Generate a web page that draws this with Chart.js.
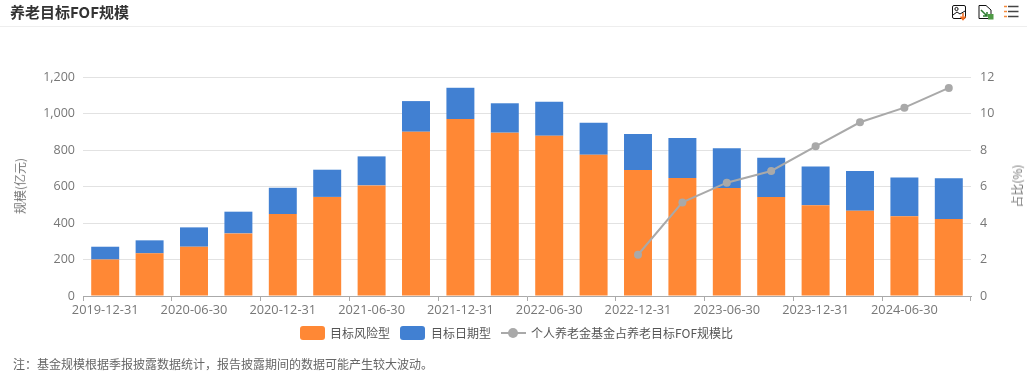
<!DOCTYPE html>
<html lang="zh">
<head>
    <meta charset="UTF-8">
    <title>养老目标FOF规模</title>
    <script src="https://cdn.jsdelivr.net/npm/chart.js"></script>
    <style>
        html, body {
            margin: 0;
            background: #fff;
        }
        body {
            width: 1027px;
            height: 379px;
            position: relative;
            overflow: hidden;
            font-family: "Open Sans", "Noto Sans CJK SC", sans-serif;
        }
        #myChart {
            position: absolute;
            left: 0;
            top: 0;
        }
        .title {
            position: absolute;
            left: 10px;
            top: 2px;
            font: bold 15px/20px "Noto Sans CJK SC", sans-serif;
            color: #333;
        }
        .header-line {
            position: absolute;
            left: 0;
            right: 0;
            top: 26px;
            border-top: 1px solid #eee;
        }
        .tools {
            position: absolute;
            left: 950px;
            top: 3px;
        }
        .axis-name {
            position: absolute;
            font: 12px/16px "Noto Sans CJK SC", sans-serif;
            color: #777;
            white-space: nowrap;
            transform: translate(-50%, -50%) rotate(-90deg);
        }
        #legend {
            position: absolute;
            left: 0;
            top: 325px;
            height: 16px;
            font: 12px/16px "Noto Sans CJK SC", sans-serif;
            color: #555;
        }
        #legend span {
            position: absolute;
            top: 0;
            white-space: nowrap;
        }
        #legend i {
            position: absolute;
            display: block;
        }
        .note {
            position: absolute;
            left: 13px;
            top: 356px;
            font: 12px/16px "Noto Sans CJK SC", sans-serif;
            color: #666;
            white-space: nowrap;
        }
    </style>
</head>
<body>
    <canvas id="myChart" width="1027" height="379"></canvas>
    <div class="title">养老目标FOF规模</div>
    <div class="header-line"></div>
    <svg class="tools" width="72" height="18" viewBox="0 0 72 18" fill="none">
        <rect x="2.5" y="2.5" width="13" height="13" rx="1.5" stroke="#111"/>
        <circle cx="6.5" cy="6" r="1.6" stroke="#111"/>
        <path d="M3 12 L7 9 L10 11 L15 8" stroke="#111"/>
        <path d="M13 10 V16 M10.5 13.5 L13 16.5 L15.5 13.5" stroke="#f26b1d" stroke-width="1.5"/>
        <path d="M29 2.5 H36 L41 7 V15.5 H29 Z" stroke="#111"/>
        <path d="M31 7 L37 13 M37 9 V13 H33" stroke="#2f7d32" stroke-width="1.5"/>
        <rect x="38" y="11" width="5.5" height="5.5" fill="#4f9a45"/>
        <path d="M54 3.5 H57 M54 8.5 H57 M54 13.5 H57" stroke="#f58a3c" stroke-width="1.5"/>
        <path d="M58 3.5 H68.5 M58 8.5 H68.5 M58 13.5 H68.5" stroke="#444" stroke-width="1.5"/>
    </svg>
    <div class="axis-name" style="left:20px; top:186px;">规模(亿元)</div>
    <div class="axis-name" style="left:1017px; top:186px;">占比(%)</div>
    <div id="legend"></div>
    <div class="note">注：基金规模根据季报披露数据统计，报告披露期间的数据可能产生较大波动。</div>

    <script>
        const categories = [
            '2019-12-31', '2020-03-31', '2020-06-30', '2020-09-30', '2020-12-31',
            '2021-03-31', '2021-06-30', '2021-09-30', '2021-12-31', '2022-03-31',
            '2022-06-30', '2022-09-30', '2022-12-31', '2023-03-31', '2023-06-30',
            '2023-09-30', '2023-12-31', '2024-03-31', '2024-06-30', '2024-09-30'
        ];
        const riskValues = [200, 234, 270, 343, 449, 543, 606, 900, 970, 895, 878, 774, 690, 647, 592, 542, 497, 467, 437, 422];
        const dateValues = [70, 71, 106, 119, 144, 149, 159, 168, 171, 161, 187, 176, 198, 219, 217, 216, 213, 218, 213, 223];
        const shareValues = [null, null, null, null, null, null, null, null, null, null, null, null, 2.26, 5.13, 6.21, 6.85, 8.2, 9.52, 10.32, 11.4];

        const riskName = '目标风险型';
        const dateName = '目标日期型';
        const shareName = '个人养老金基金占养老目标FOF规模比';

        const ORANGE = '#ff8835';
        const BLUE = '#4180d2';
        const GREY = '#a9a9a9';
        const fontFamily = '"Open Sans", "Noto Sans CJK SC", sans-serif';

        new Chart(document.getElementById('myChart'), {
            type: 'bar',
            data: {
                labels: categories,
                datasets: [
                    { label: riskName, data: riskValues, backgroundColor: ORANGE, yAxisID: 'y', order: 2, barPercentage: 0.63, categoryPercentage: 1 },
                    { label: dateName, data: dateValues, backgroundColor: BLUE, yAxisID: 'y', order: 2, barPercentage: 0.63, categoryPercentage: 1 },
                    {
                        type: 'line', label: shareName, data: shareValues, yAxisID: 'y1', order: 1,
                        borderColor: GREY, backgroundColor: GREY, borderWidth: 2,
                        pointRadius: 4, pointBackgroundColor: GREY, pointBorderWidth: 0, tension: 0
                    }
                ]
            },
            options: {
                responsive: false,
                animation: false,
                layout: { padding: { top: 77 } },
                plugins: { legend: { display: false }, tooltip: { enabled: false } },
                scales: {
                    x: {
                        stacked: true,
                        afterFit: s => { s.height = 83; },
                        border: { color: '#aaa' },
                        grid: {
                            offset: true,
                            drawOnChartArea: false,
                            tickLength: 5,
                            // ticks only every second band
                            tickColor: ctx => (ctx.index % 2 ? 'transparent' : '#aaa')
                        },
                        ticks: {
                            autoSkip: false,
                            maxRotation: 0,
                            padding: 2,
                            color: '#777',
                            font: { family: fontFamily, size: 12.8 },
                            callback: (v, i) => (i % 2 ? '' : categories[i])
                        }
                    },
                    y: {
                        stacked: true,
                        position: 'left',
                        min: 0,
                        max: 1200,
                        afterFit: s => { s.width = 83; },
                        border: { display: false },
                        grid: { color: '#e2e2e2', drawTicks: false },
                        ticks: {
                            stepSize: 200,
                            padding: 8,
                            color: '#777',
                            font: { family: fontFamily, size: 12.5 },
                            callback: v => v.toLocaleString('en-US')
                        }
                    },
                    y1: {
                        position: 'right',
                        min: 0,
                        max: 12,
                        afterFit: s => { s.width = 56; },
                        border: { display: false },
                        grid: { display: false, drawTicks: false },
                        ticks: { stepSize: 2, padding: 9, color: '#777', font: { family: fontFamily, size: 12.5 } }
                    }
                }
            }
        });

        // Legend written as html so the swatches keep the rounded look
        const legendEl = document.getElementById('legend');
        legendEl.innerHTML =
            `<i style="left:300px;top:1px;width:25px;height:14px;border-radius:3px;background:${ORANGE}"></i>` +
            `<span style="left:330px">${riskName}</span>` +
            `<i style="left:400px;top:1px;width:25px;height:14px;border-radius:3px;background:${BLUE}"></i>` +
            `<span style="left:431px">${dateName}</span>` +
            `<i style="left:501px;top:7px;width:25px;height:2px;background:${GREY}"></i>` +
            `<i style="left:508px;top:3px;width:10px;height:10px;border-radius:50%;background:${GREY}"></i>` +
            `<span style="left:531px">${shareName}</span>`;
    </script>
</body>
</html>
